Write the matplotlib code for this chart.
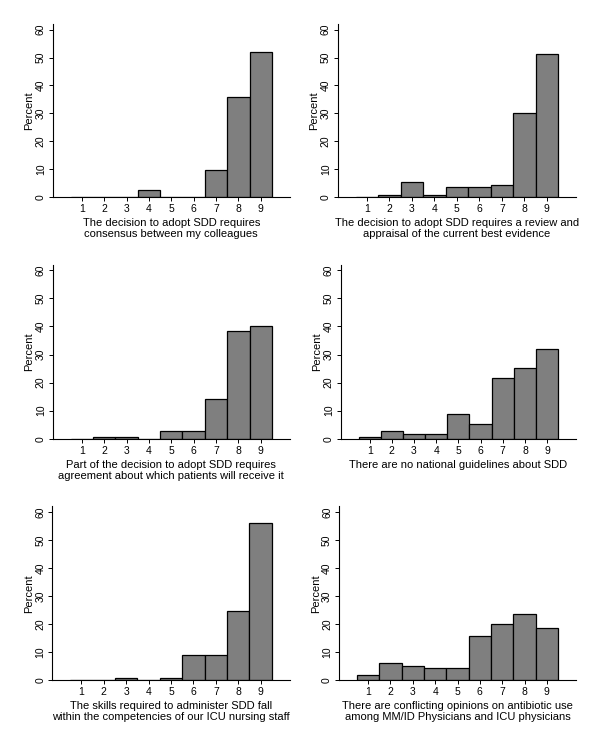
import matplotlib
matplotlib.use("Agg")
import matplotlib.pyplot as plt

plt.rcParams["font.family"] = ["Liberation Sans", "DejaVu Sans"]

scores = [1, 2, 3, 4, 5, 6, 7, 8, 9]

# percent of respondents giving each score
consensus = [0, 0, 0, 2.6, 0, 0, 9.8, 35.7, 51.9]
evidence = [0, 0.9, 5.3, 0.9, 3.5, 3.5, 4.4, 30.1, 51.3]
patients = [0, 0.8, 0.8, 0, 2.7, 2.7, 14.2, 38.4, 40.2]
guidelines = [0.8, 2.6, 1.8, 1.8, 8.7, 5.4, 21.8, 25.2, 32.1]
nursing = [0, 0, 0.9, 0, 0.9, 8.9, 8.9, 24.5, 56.0]
conflicting = [1.9, 6.2, 5.2, 4.3, 4.3, 15.8, 20.2, 23.7, 18.5]

labels = [
    "The decision to adopt SDD requires\nconsensus between my colleagues",
    "The decision to adopt SDD requires a review and\nappraisal of the current best evidence",
    "Part of the decision to adopt SDD requires\nagreement about which patients will receive it",
    "There are no national guidelines about SDD",
    "The skills required to administer SDD fall\nwithin the competencies of our ICU nursing staff",
    "There are conflicting opinions on antibiotic use\namong MM/ID Physicians and ICU physicians",
]
series = [consensus, evidence, patients, guidelines, nursing, conflicting]

# axes boxes in figure fractions: left, bottom, width, height
boxes = [
    (0.088, 0.737, 0.395, 0.231),
    (0.563, 0.737, 0.397, 0.231),
    (0.088, 0.415, 0.395, 0.232),
    (0.568, 0.415, 0.392, 0.232),
    (0.087, 0.093, 0.396, 0.232),
    (0.565, 0.093, 0.395, 0.232),
]

fig = plt.figure(figsize=(6, 7.5), dpi=100)
for vals, lab, box in zip(series, labels, boxes):
    ax = fig.add_axes(box)
    ax.bar(scores, vals, width=1.0, color="#7f7f7f", edgecolor="black", linewidth=0.9)
    ax.set_xlim(-0.3, 10.3)
    ax.set_ylim(0, 62)
    ax.set_xticks(scores)
    ax.set_yticks([0, 10, 20, 30, 40, 50, 60])
    for lbl in ax.get_yticklabels():
        lbl.set_rotation(90)
        lbl.set_va("center")
    ax.tick_params(labelsize=7.5, length=3, width=0.7, pad=2)
    ax.spines["top"].set_visible(False)
    ax.spines["right"].set_visible(False)
    ax.spines["left"].set_linewidth(0.8)
    ax.spines["bottom"].set_linewidth(0.8)
    ax.set_ylabel("Percent", fontsize=8, labelpad=1)
    ax.set_xlabel(lab, fontsize=8, labelpad=3, linespacing=1.1)

fig.savefig("out.png", dpi=100, facecolor="white")
